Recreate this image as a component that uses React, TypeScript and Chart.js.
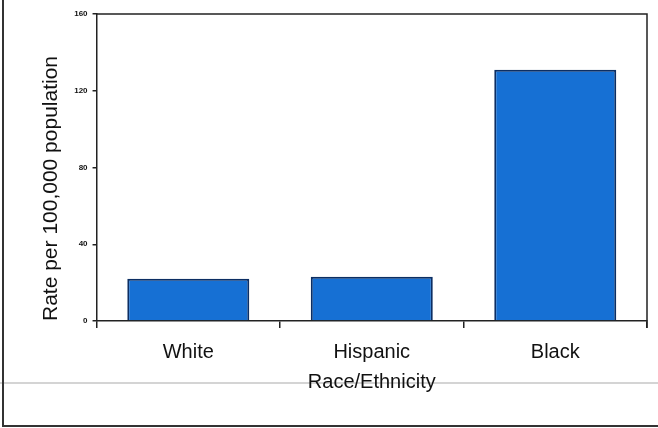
import React, { useEffect, useRef } from "react";
import { Chart, registerables } from "chart.js";

Chart.register(...registerables);

const categories = ["White", "Hispanic", "Black"];
const rates = [22, 23, 131];
const yTicks = [0, 40, 80, 120, 160];

const framePlugin = {
  id: "frame",
  beforeDraw(chart: any) {
    const { ctx, width, height } = chart;
    ctx.save();
    ctx.fillStyle = "#ffffff";
    ctx.fillRect(0, 0, width, height);
    // faint grey separator
    ctx.strokeStyle = "#d4d4d4";
    ctx.lineWidth = 2;
    ctx.beginPath();
    ctx.moveTo(0, 383);
    ctx.lineTo(width, 383);
    ctx.stroke();
    // outer frame (left + bottom)
    ctx.strokeStyle = "#333333";
    ctx.lineWidth = 2;
    ctx.beginPath();
    ctx.moveTo(3, 0);
    ctx.lineTo(3, 426);
    ctx.lineTo(width, 426);
    ctx.stroke();
    ctx.restore();
  },
  afterDraw(chart: any) {
    const { ctx, chartArea } = chart;
    ctx.save();
    ctx.strokeStyle = "#222222";
    ctx.lineWidth = 1.5;
    ctx.beginPath();
    ctx.moveTo(chartArea.left, chartArea.top);
    ctx.lineTo(chartArea.right, chartArea.top);
    ctx.lineTo(chartArea.right, chartArea.bottom + 7);
    ctx.stroke();
    ctx.restore();
  },
};

export default function App() {
  const ref = useRef<HTMLCanvasElement | null>(null);

  useEffect(() => {
    if (!ref.current) return;
    const chart = new Chart(ref.current, {
      type: "bar",
      data: {
        labels: categories,
        datasets: [
          {
            data: rates,
            backgroundColor: "#1670d4",
            borderColor: "#0c2e63",
            borderWidth: 2,
            barPercentage: 0.665,
            categoryPercentage: 1,
          },
        ],
      },
      options: {
        responsive: false,
        animation: false,
        layout: { padding: { left: 39, top: 14, right: 11, bottom: 40 } },
        plugins: {
          legend: { display: false },
          tooltip: { enabled: false },
          title: { display: false },
        },
        scales: {
          x: {
            offset: true,
            grid: {
              display: true,
              drawOnChartArea: false,
              drawTicks: true,
              tickLength: 7,
              color: "#222222",
              lineWidth: 1.5,
              offset: true,
            },
            border: { display: true, color: "#222222", width: 1.5 },
            ticks: {
              color: "#111111",
              padding: 12,
              font: { family: "Arial, 'Liberation Sans', sans-serif", size: 20 },
            },
            title: {
              display: true,
              text: "Race/Ethnicity",
              color: "#111111",
              padding: { top: 0, bottom: 0 },
              font: { family: "Arial, 'Liberation Sans', sans-serif", size: 20, lineHeight: 0.6 },
            },
          },
          y: {
            min: 0,
            max: 160,
            afterBuildTicks(axis: any) {
              axis.ticks = yTicks.map((v) => ({ value: v }));
            },
            grid: {
              display: true,
              drawOnChartArea: false,
              drawTicks: true,
              tickLength: 4,
              color: "#222222",
              lineWidth: 1.5,
            },
            border: { display: true, color: "#222222", width: 1.5 },
            ticks: {
              color: "#111111",
              padding: 5,
              font: { family: "Arial, 'Liberation Sans', sans-serif", size: 8, weight: "bold" },
            },
            title: {
              display: true,
              text: "Rate per 100,000 population",
              align: "start",
              color: "#111111",
              padding: { top: 0, bottom: 5 },
              font: { family: "Arial, 'Liberation Sans', sans-serif", size: 21 },
            },
          },
        },
      },
      plugins: [framePlugin],
    } as any);
    return () => chart.destroy();
  }, []);

  return (
    <div style={{ position: "fixed", left: 0, top: 0, width: 658, height: 428 }}>
      <canvas ref={ref} width={658} height={428} style={{ display: "block" }} />
    </div>
  );
}
